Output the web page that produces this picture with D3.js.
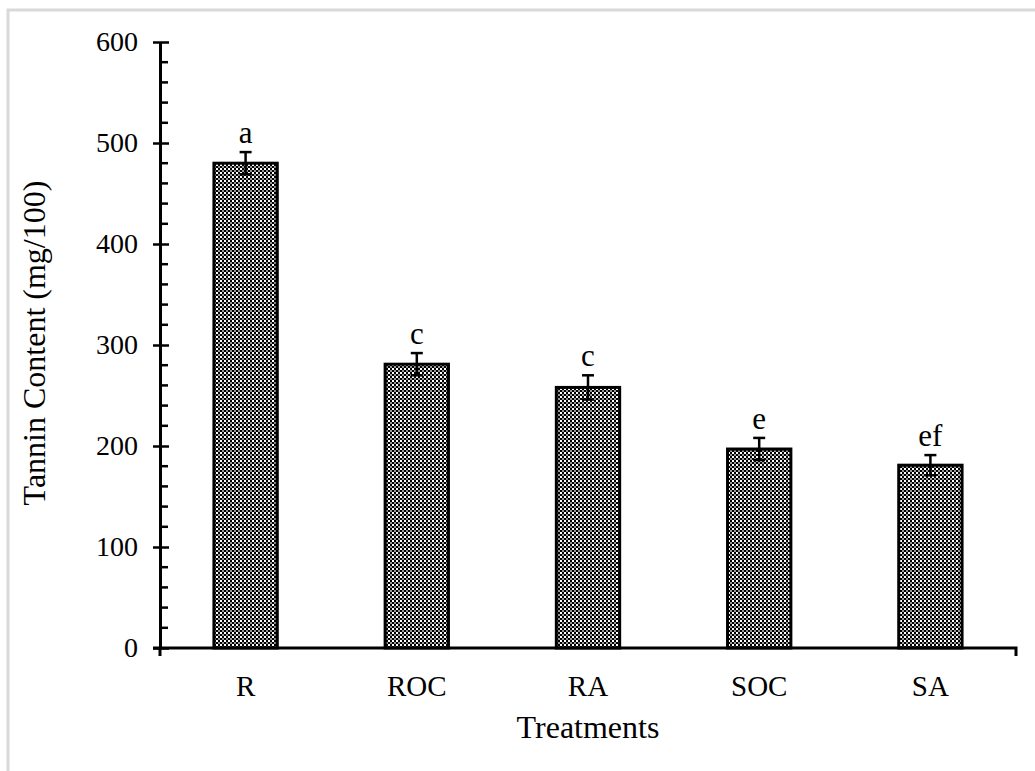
<!DOCTYPE html>
<html>
<head>
<meta charset="utf-8">
<script src="https://cdn.jsdelivr.net/npm/d3@7"></script>
<style>
  body { margin: 0; background: #fff; }
  svg { display: block; font-family: "Liberation Serif", "Times New Roman", serif; }
</style>
</head>
<body>
<svg id="chart" width="1035" height="771"></svg>
<script>
// Data
const treatments = ["R", "ROC", "RA", "SOC", "SA"];
const tannin = [480, 281, 258, 197, 181];
const errors = [11, 11, 12, 11, 10];
const letters = ["a", "c", "c", "e", "ef"];
const yTicks = [0, 100, 200, 300, 400, 500, 600];

// Layout
const margin = { top: 42, right: 19, bottom: 123, left: 160 },
      width = 1035 - margin.left - margin.right,
      height = 771 - margin.top - margin.bottom;
const fontSize = "28px";
const titleSize = "32px";

const root = d3.select("#chart");

// light frame around the figure
root.append("path")
  .attr("d", "M8,771 V10 H1035")
  .attr("fill", "none")
  .attr("stroke", "#d9d9d9")
  .attr("stroke-width", 3);

// dotted fill pattern
const defs = root.append("defs");
const pat = defs.append("pattern")
  .attr("id", "dots")
  .attr("patternUnits", "userSpaceOnUse")
  .attr("width", 4).attr("height", 4);
pat.append("rect").attr("width", 4).attr("height", 4).attr("fill", "#fff");
pat.append("rect").attr("x", 0).attr("y", 0).attr("width", 2).attr("height", 2).attr("fill", "#000");
pat.append("rect").attr("x", 2).attr("y", 2).attr("width", 2).attr("height", 2).attr("fill", "#000");
pat.append("rect").attr("x", 2).attr("y", 0).attr("width", 2).attr("height", 2).attr("fill", "#999");

const svg = root.append("g")
  .attr("transform", `translate(${margin.left},${margin.top})`);

const x = d3.scaleBand().domain(treatments).range([0, width]).paddingInner(0.63).paddingOuter(0.315);
const y = d3.scaleLinear().domain([0, 600]).range([height, 0]);

const rows = treatments.map((t, i) => ({ t, v: tannin[i], e: errors[i], l: letters[i] }));

// bars
svg.selectAll(".bar")
  .data(rows)
  .enter().append("rect")
    .attr("class", "bar")
    .attr("x", d => x(d.t))
    .attr("y", d => y(d.v))
    .attr("width", x.bandwidth())
    .attr("height", d => y(0) - y(d.v))
    .attr("fill", "url(#dots)")
    .attr("stroke", "#000")
    .attr("stroke-width", 3);

// error bars
const eb = svg.selectAll(".err").data(rows).enter().append("g")
  .attr("class", "err")
  .attr("stroke", "#000")
  .attr("stroke-width", 2.5);
eb.append("line")
  .attr("x1", d => x(d.t) + x.bandwidth() / 2)
  .attr("x2", d => x(d.t) + x.bandwidth() / 2)
  .attr("y1", d => y(d.v + d.e))
  .attr("y2", d => y(d.v - d.e));
eb.append("line")
  .attr("x1", d => x(d.t) + x.bandwidth() / 2 - 6)
  .attr("x2", d => x(d.t) + x.bandwidth() / 2 + 6)
  .attr("y1", d => y(d.v + d.e))
  .attr("y2", d => y(d.v + d.e));
eb.append("line")
  .attr("x1", d => x(d.t) + x.bandwidth() / 2 - 6)
  .attr("x2", d => x(d.t) + x.bandwidth() / 2 + 6)
  .attr("y1", d => y(d.v - d.e))
  .attr("y2", d => y(d.v - d.e));

// significance letters
svg.selectAll(".letter")
  .data(rows)
  .enter().append("text")
    .attr("class", "letter")
    .attr("x", d => x(d.t) + x.bandwidth() / 2)
    .attr("y", d => y(d.v + d.e) - 9)
    .attr("text-anchor", "middle")
    .style("font-size", "31px")
    .text(d => d.l);

// y axis: minor ticks
svg.append("g")
  .selectAll("line")
  .data(d3.range(0, 601, 20).filter(v => v % 100 !== 0))
  .enter().append("line")
    .attr("x1", 0).attr("x2", 8)
    .attr("y1", d => y(d)).attr("y2", d => y(d))
    .attr("stroke", "#000").attr("stroke-width", 2.5);

const yAxis = svg.append("g")
  .call(d3.axisLeft(y).tickValues(yTicks).tickSizeInner(0).tickSizeOuter(0).tickPadding(22));
yAxis.select(".domain").attr("stroke-width", 3);
yAxis.selectAll(".tick text").style("font-size", fontSize).style("font-family", "Liberation Serif").attr("fill", "#000");
yAxis.selectAll(".tick").append("line")
  .attr("x1", -7).attr("x2", 9)
  .attr("stroke", "#000").attr("stroke-width", 2.5);

// x axis
const xAxis = svg.append("g")
  .attr("transform", `translate(0,${height})`)
  .call(d3.axisBottom(x).tickSize(0).tickPadding(27));
xAxis.select(".domain").remove();
xAxis.selectAll(".tick text").style("font-size", "29px").style("font-family", "Liberation Serif").attr("fill", "#000");
xAxis.append("path")
  .attr("d", `M-7,0 H${width} V8 M0,0 V8`)
  .attr("fill", "none")
  .attr("stroke", "#000")
  .attr("stroke-width", 3);

// axis titles
root.append("text")
  .attr("transform", `translate(45,343) rotate(-90)`)
  .attr("text-anchor", "middle")
  .style("font-size", titleSize)
  .text("Tannin Content (mg/100)");

root.append("text")
  .attr("x", margin.left + width / 2)
  .attr("y", 738)
  .attr("text-anchor", "middle")
  .style("font-size", titleSize)
  .text("Treatments");
</script>
</body>
</html>
